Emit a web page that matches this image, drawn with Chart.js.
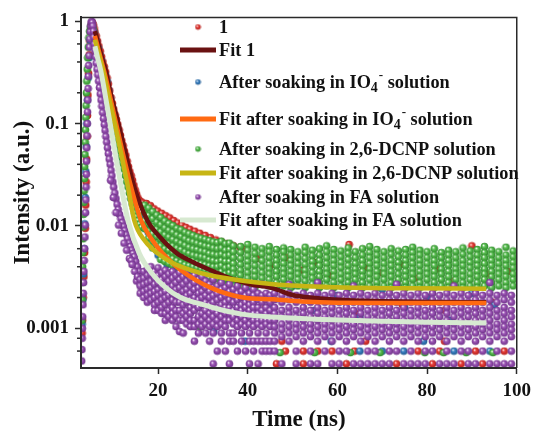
<!DOCTYPE html>
<html>
<head>
<meta charset="utf-8">
<script src="https://cdn.jsdelivr.net/npm/chart.js@4.4.1/dist/chart.umd.min.js"></script>
<style>
  html, body { margin: 0; padding: 0; background: #ffffff; }
  canvas { display: block; }
</style>
</head>
<body>
<canvas id="decay" width="537" height="435"></canvas>
<script>
// ---------- axis ticks ----------
const xTicks = [20, 40, 60, 80, 100];
const yMajorTicks = [0.001, 0.01, 0.1, 1];
const yMinorTicks = [0.0006, 0.0008, 0.002, 0.004, 0.006, 0.008, 0.02, 0.04, 0.06, 0.08, 0.2, 0.4, 0.6, 0.8];

// ---------- series labels ----------
const seriesLabels = [
  '1',
  'Fit 1',
  'After soaking in IO\u2084\u207B solution',
  'Fit after soaking in IO\u2084\u207B solution',
  'After soaking in 2,6-DCNP solution',
  'Fit after soaking in 2,6-DCNP solution',
  'After soaking in FA solution',
  'Fit after soaking in FA solution'
];

// ---------- sample 1 (time ns, intensity) ----------
const s1Curve = [
  [3.05,0.0009],[3.15,0.0012],[3.3,0.002],[3.45,0.0032],[3.6,0.0055],[3.75,0.0095],[3.85,0.016],[3.95,0.027],
  [4.05,0.045],[4.15,0.075],[4.25,0.12],[4.35,0.19],[4.5,0.31],[4.65,0.47],[4.8,0.64],[4.95,0.8],[5.1,0.92],
  [5.3,0.97],[5.5,0.93],[5.7,0.86],[5.9,0.79],[6.2,0.72],[6.5,0.64],[6.8,0.57],[7.1,0.51],[7.4,0.45],[7.7,0.40],
  [8.0,0.36],[8.3,0.32],[8.6,0.28],[8.9,0.245],[9.2,0.21],[9.5,0.18],[9.8,0.158],[10.1,0.138],[10.4,0.122],
  [10.7,0.11],[11.0,0.098],[11.3,0.087],[11.6,0.077],[11.9,0.068],[12.2,0.061],[12.5,0.054],[12.8,0.049],
  [13.1,0.043],[13.4,0.038],[13.7,0.034],[14.0,0.031],[14.3,0.028],[14.6,0.025],[14.9,0.0225],[15.2,0.0205],
  [15.5,0.0188],[15.8,0.0178],[16.2,0.0172],[16.6,0.0168],[17.4,0.0166],[18.3,0.0158],[19.1,0.0147],[19.9,0.0140],
  [20.8,0.0133],[21.7,0.0126],[22.6,0.0120],[23.5,0.0113],[24.4,0.0107],[25.3,0.0102],[26.2,0.0097],[27.1,0.0093],
  [28.2,0.0089],[29.3,0.0085],[30.5,0.0081],[31.7,0.0077],[32.9,0.0073],[34.1,0.0070],[35.4,0.0067],[36.8,0.0064],
  [38.3,0.0062],[39.8,0.0060],[17.0,0.0118],[18.5,0.0095],[20.0,0.0081],[22.0,0.0068],[24.0,0.0058],[26.5,0.005],
  [29.0,0.0043],[32.0,0.0037],[35.0,0.0033],[38.0,0.0029],[42.0,0.0048],[45.0,0.0041],[48.8,0.0049],[52.0,0.0037],
  [55.0,0.0044],[58.0,0.0033],[62.6,0.0066],[66.0,0.0039],[70.0,0.0035],[74.0,0.0042],[78.0,0.0031],[82.0,0.0038],
  [86.0,0.0029],[90.0,0.0064],[94.0,0.0034],[98.0,0.0036],[44.0,0.0016],[54.0,0.0019],[64.0,0.0014],[74.5,0.0017],
  [84.0,0.0015],[94.5,0.0018],[47.6,0.00075],[66.3,0.00075],[83.9,0.00075],
  [48.4,0.0006],[52.4,0.0006],[55.6,0.0006],[58.8,0.0006],[63.8,0.0006],[78.0,0.0006],[82.8,0.0006],[90.8,0.0006],
  [97.2,0.0006],[46.4,0.00045],[52.4,0.00045],[62.0,0.00045],[73.2,0.00045],[81.2,0.00045],[87.6,0.00045],[92.4,0.00045]
];

// ---------- after soaking in IO4- ----------
const ioCurve = [
  [3.05,0.0011],[3.2,0.0019],[3.35,0.0034],[3.5,0.006],[3.62,0.0105],[3.74,0.019],[3.86,0.034],[3.98,0.06],
  [4.1,0.1],[4.24,0.17],[4.4,0.28],[4.6,0.44],[4.85,0.65],[5.1,0.82],[5.4,0.86],[5.7,0.78],[6.2,0.64],[6.6,0.55],
  [7.0,0.47],[7.4,0.41],[7.8,0.35],[8.2,0.3],[8.6,0.26],[9.0,0.21],[9.4,0.175],[9.8,0.145],[10.2,0.12],[10.6,0.1],
  [11.0,0.085],[11.4,0.071],[11.8,0.06],[12.2,0.05],[12.6,0.042],[13.0,0.036],[13.4,0.031],[13.8,0.026],
  [14.2,0.022],[14.6,0.019],[15.0,0.0168],[15.4,0.0172],[16.0,0.0125],[16.6,0.011],[17.2,0.0097],[17.8,0.0087],
  [18.5,0.0078],[20.0,0.0052],[22.0,0.0042],[24.0,0.0035],[26.0,0.0031],[28.0,0.0027],[30.0,0.0025],[33.0,0.0021],
  [36.0,0.0019],[40.0,0.0023],[45.0,0.0017],[50.0,0.0026],[55.0,0.0015],[60.0,0.0021],[65.0,0.0013],[70.0,0.0024],
  [75.0,0.0016],[80.0,0.002],[85.0,0.0012],[90.0,0.0022],[95.0,0.0017],
  [32.4,0.00093],[39.4,0.00075],[58.6,0.00075],[79.2,0.00075],
  [65.0,0.0006],[70.0,0.0006],[74.8,0.0006],[86.0,0.0006],[94.0,0.0006]
];

// ---------- after soaking in 2,6-DCNP ----------
const dcnpCurve = [
  [3.0,0.0012],[3.05,0.0019],[3.1,0.0028],[3.15,0.004],[3.2,0.0055],[3.26,0.0075],[3.32,0.0098],[3.38,0.013],
  [3.44,0.017],[3.5,0.022],[3.56,0.029],[3.62,0.038],[3.68,0.05],[3.74,0.066],[3.8,0.087],[3.87,0.115],[3.94,0.15],
  [4.02,0.2],[4.1,0.26],[4.2,0.34],[4.3,0.44],[4.42,0.56],[4.56,0.69],[4.72,0.8],[4.9,0.88],[5.1,0.92],[5.35,0.9],
  [5.6,0.82],[5.85,0.72],[6.1,0.62],[6.4,0.55],[6.7,0.49],[7.0,0.44],[7.3,0.39],[7.6,0.35],[7.9,0.31],[8.2,0.27],
  [8.5,0.235],[8.8,0.2],[9.1,0.172],[9.4,0.148],[9.7,0.128],[10.0,0.11],[10.3,0.096],[10.6,0.083],[10.9,0.072],
  [11.2,0.062],[11.5,0.054],[11.8,0.047],[12.1,0.041],[12.4,0.036],[12.7,0.031],[13.0,0.027],[13.3,0.024],
  [13.6,0.021],[13.9,0.0185],[14.2,0.0165],[14.5,0.0148],[14.8,0.0134],[15.1,0.0123],[15.5,0.0113],[15.9,0.0104],
  [16.3,0.0097],[29.3,0.00103],[47.2,0.00058],[54.9,0.00058],[62.9,0.00058],[69.5,0.00058],[79.5,0.00058],
  [83.7,0.00058],[88.7,0.00058],[94.7,0.00058]
];
const dcnpColumns = [
  [17.0,0.0160,0.0135,0.0112,0.0094],
  [17.9,0.0150,0.0127,0.0106,0.0089,0.0076],
  [18.8,0.0138,0.0118,0.0099,0.0084,0.0071,0.0061],
  [19.7,0.0128,0.0109,0.0093,0.0079,0.0067,0.0058],
  [20.6,0.0121,0.0103,0.0088,0.0075,0.0064,0.0055,0.0047],
  [21.5,0.0112,0.0096,0.0082,0.0070,0.0060,0.0052,0.0045],
  [22.4,0.0106,0.0091,0.0078,0.0067,0.0058,0.0050,0.0043],
  [23.3,0.0101,0.0087,0.0074,0.0064,0.0055,0.0048,0.0041],
  [24.2,0.0095,0.0082,0.0071,0.0061,0.0053,0.0046,0.0040],
  [25.1,0.0092,0.0079,0.0068,0.0059,0.0051,0.0044,0.0038],
  [26.0,0.0087,0.0075,0.0065,0.0056,0.0049,0.0042,0.0037],
  [26.9,0.0084,0.0072,0.0062,0.0054,0.0047,0.0041,0.0036],
  [27.8,0.0081,0.0070,0.0060,0.0052,0.0046,0.0040,0.0035],
  [28.7,0.0078,0.0068,0.0059,0.0051,0.0044,0.0039,0.0034,0.0030],
  [29.6,0.0076,0.0066,0.0057,0.0050,0.0043,0.0038,0.0033,0.0029],
  [30.5,0.0074,0.0064,0.0056,0.0049,0.0042,0.0037,0.0032,0.0028],
  [31.4,0.0072,0.0063,0.0054,0.0047,0.0041,0.0036,0.0031,0.0028],
  [32.3,0.0070,0.0061,0.0053,0.0046,0.0040,0.0035,0.0031,0.0027],
  [33.2,0.0069,0.0060,0.0052,0.0045,0.0040,0.0035,0.0030,0.0027],
  [34.1,0.0071,0.0061,0.0053,0.0046,0.0041,0.0036,0.0031,0.0027],
  [35.0,0.0067,0.0058,0.0051,0.0045,0.0039,0.0034,0.0030,0.0026],
  [35.9,0.0068,0.0059,0.0052,0.0045,0.0040,0.0035,0.0030,0.0026],
  [36.8,0.0064,0.0056,0.0049,0.0043,0.0038,0.0034,0.0030,0.0026],
  [38.4,0.0063,0.0055,0.0048,0.0042,0.0037,0.0033,0.0029,0.0025],
  [40.0,0.0066,0.0058,0.0051,0.0045,0.0040,0.0035,0.0031,0.0027],
  [41.6,0.0062,0.0054,0.0047,0.0041,0.0036,0.0032,0.0028,0.0025],
  [43.2,0.0060,0.0053,0.0046,0.0040,0.0035,0.0031,0.0027],
  [44.8,0.0063,0.0056,0.0049,0.0043,0.0038,0.0034,0.0030,0.0026],
  [46.4,0.0059,0.0052,0.0046,0.0041,0.0036,0.0032,0.0028,0.0025],
  [48.0,0.0061,0.0056,0.0049,0.0043,0.0038,0.0034,0.0030,0.0026],
  [49.6,0.0059,0.0052,0.0046,0.0041,0.0036,0.0032,0.0028,0.0025],
  [51.2,0.0056,0.0049,0.0043,0.0038,0.0034,0.0030,0.0026],
  [52.8,0.0062,0.0055,0.0048,0.0042,0.0037,0.0033,0.0029,0.0025],
  [54.4,0.0058,0.0051,0.0045,0.0040,0.0035,0.0031,0.0027],
  [56.0,0.0060,0.0052,0.0046,0.0041,0.0036,0.0032,0.0028,0.0025],
  [57.6,0.0064,0.0056,0.0049,0.0043,0.0038,0.0034,0.0030,0.0026],
  [59.2,0.0059,0.0052,0.0046,0.0041,0.0036,0.0032,0.0028,0.0025],
  [60.8,0.0057,0.0050,0.0044,0.0039,0.0034,0.0030,0.0026],
  [62.4,0.0061,0.0054,0.0047,0.0041,0.0036,0.0032,0.0028,0.0025],
  [64.0,0.0056,0.0049,0.0043,0.0038,0.0034,0.0030,0.0026],
  [65.6,0.0060,0.0052,0.0046,0.0041,0.0036,0.0032,0.0028,0.0025],
  [67.2,0.0063,0.0055,0.0049,0.0043,0.0038,0.0034,0.0030,0.0026],
  [68.8,0.0059,0.0052,0.0046,0.0041,0.0036,0.0032,0.0028,0.0025],
  [70.4,0.0056,0.0049,0.0043,0.0038,0.0034,0.0030,0.0026],
  [72.0,0.0060,0.0053,0.0046,0.0041,0.0036,0.0032,0.0028,0.0025],
  [73.6,0.0057,0.0050,0.0044,0.0039,0.0034,0.0030,0.0026],
  [75.2,0.0059,0.0052,0.0046,0.0041,0.0036,0.0032,0.0028,0.0025],
  [76.8,0.0062,0.0055,0.0049,0.0043,0.0038,0.0034,0.0030,0.0026],
  [78.4,0.0058,0.0052,0.0046,0.0041,0.0036,0.0032,0.0028,0.0025],
  [80.0,0.0056,0.0049,0.0043,0.0038,0.0034,0.0030,0.0026],
  [81.6,0.0060,0.0052,0.0046,0.0041,0.0036,0.0032,0.0028,0.0025],
  [83.2,0.0055,0.0049,0.0043,0.0038,0.0034,0.0030,0.0026],
  [84.8,0.0058,0.0052,0.0046,0.0041,0.0036,0.0032,0.0028,0.0025],
  [86.4,0.0056,0.0049,0.0043,0.0038,0.0034,0.0030,0.0026],
  [88.0,0.0061,0.0053,0.0046,0.0041,0.0036,0.0032,0.0028,0.0025],
  [89.6,0.0057,0.0050,0.0044,0.0039,0.0034,0.0030,0.0026],
  [91.2,0.0059,0.0052,0.0046,0.0041,0.0036,0.0032,0.0028,0.0025],
  [92.8,0.0063,0.0055,0.0049,0.0043,0.0038,0.0034,0.0030,0.0026],
  [94.4,0.0058,0.0052,0.0046,0.0041,0.0036,0.0032,0.0028,0.0025],
  [96.0,0.0056,0.0049,0.0043,0.0038,0.0034,0.0030,0.0026],
  [97.6,0.0062,0.0052,0.0046,0.0041,0.0036,0.0032,0.0028,0.0025],
  [99.2,0.0057,0.0050,0.0044,0.0039,0.0034,0.0030,0.0026]
];

// ---------- after soaking in FA ----------
const faCurve = [
  [2.95,0.00048],[3.0,0.00062],[3.06,0.0008],[3.1,0.001],[3.17,0.0013],[3.24,0.0017],[3.31,0.0022],[3.38,0.0028],
  [3.45,0.0036],[3.52,0.0046],[3.6,0.006],[3.68,0.0078],[3.75,0.0102],[3.82,0.0135],[3.88,0.018],[3.94,0.024],
  [3.99,0.032],[4.04,0.043],[4.09,0.058],[4.14,0.076],[4.2,0.1],[4.26,0.13],[4.32,0.17],[4.38,0.22],[4.45,0.29],
  [4.52,0.37],[4.6,0.46],[4.68,0.56],[4.77,0.67],[4.87,0.79],[4.98,0.9],[5.08,0.97],[5.2,1.0],
  [5.32,0.97],[5.44,0.9],[5.55,0.8],[5.66,0.7],[5.78,0.6],[5.9,0.52],[6.04,0.45],[6.2,0.39],[6.38,0.34],[6.56,0.3],
  [6.74,0.26],[6.92,0.225],[7.1,0.195],[7.28,0.17],[7.46,0.148],[7.64,0.128],[7.82,0.112],[8.0,0.098],[8.18,0.086],
  [8.36,0.075],[8.54,0.066],[8.72,0.058],[8.9,0.051],[9.1,0.045],[9.3,0.04],[9.5,0.035],[9.7,0.031],[9.9,0.027],
  [10.1,0.024],[10.35,0.021],[10.6,0.0185],[10.85,0.0163],[11.1,0.0145],[11.4,0.013],[11.7,0.0118],[12.0,0.0108],
  [12.3,0.0099],[12.6,0.009],[12.9,0.0082],[13.2,0.0075],[13.5,0.0068],[13.8,0.0063],[14.1,0.0058],[14.4,0.0054],
  [14.7,0.005],[15.0,0.0045],[15.4,0.004],[15.8,0.0036],[16.2,0.0032],[16.6,0.0028],[17.0,0.0025],
  [9.4,0.028],[10.0,0.019],[10.6,0.0135],[11.2,0.0102],[11.8,0.0085],[12.4,0.0068],[13.0,0.0058],[13.6,0.0048],
  [14.0,0.0046],[14.2,0.0042],[14.8,0.0036],[15.2,0.0029],[15.4,0.0032],[16.0,0.0027],[16.4,0.0024]
];
const faColumns = [
  [16.0,0.0030,0.0026,0.0022],
  [16.8,0.0036,0.0031,0.0027,0.0023,0.0020],
  [17.6,0.0038,0.0033,0.0028,0.0024,0.0021,0.0018],
  [18.4,0.0040,0.0034,0.0029,0.0025,0.0022,0.0019],
  [19.2,0.0036,0.0031,0.0027,0.0023,0.0020,0.0017,0.0015],
  [20.0,0.0039,0.0033,0.0028,0.0024,0.0021,0.0018,0.0015],
  [20.8,0.0035,0.0030,0.0026,0.0022,0.0019,0.0016,0.0014],
  [21.6,0.0037,0.0032,0.0027,0.0023,0.0020,0.0017,0.0014,0.0012],
  [22.4,0.0034,0.0029,0.0025,0.0021,0.0018,0.0015,0.0013],
  [23.2,0.0036,0.0031,0.0026,0.0022,0.0019,0.0016,0.0014,0.0012],
  [24.0,0.0033,0.0028,0.0024,0.0021,0.0018,0.0015,0.0013,0.00104],
  [24.8,0.0035,0.0030,0.0025,0.0021,0.0018,0.0015,0.0012,0.00093],
  [25.6,0.0032,0.0027,0.0023,0.0020,0.0017,0.0014,0.0012,0.0009],
  [26.4,0.0034,0.0029,0.0024,0.0021,0.0018,0.0015,0.0013,0.0011],
  [27.2,0.0031,0.0026,0.0022,0.0019,0.0016,0.0014,0.0012,0.00104],
  [28.1,0.0033,0.0028,0.0024,0.0020,0.0017,0.0015,0.0012,0.00104,0.00075],
  [29.0,0.0030,0.0025,0.0022,0.0019,0.0016,0.0013,0.0011,0.0009],
  [29.8,0.0032,0.0027,0.0023,0.0020,0.0017,0.0014,0.0012,0.00104],
  [30.6,0.0029,0.0025,0.0021,0.0018,0.0015,0.0013,0.0011,0.0009],
  [31.5,0.0027,0.0023,0.0020,0.0017,0.0014,0.0012,0.00104,0.00075],
  [32.3,0.0030,0.0025,0.0021,0.0018,0.0015,0.0013,0.0011,0.0009,0.00045],
  [33.2,0.0026,0.0022,0.0019,0.0016,0.0014,0.0012,0.00104,0.0006],
  [34.1,0.0028,0.0024,0.0020,0.0017,0.0015,0.0013,0.0011,0.0009,0.00075],
  [35.0,0.0025,0.0021,0.0018,0.0016,0.0014,0.0012,0.00104,0.0006],
  [35.9,0.0027,0.0023,0.0019,0.0016,0.0014,0.0012,0.0009,0.00075,0.00045],
  [36.8,0.0024,0.0021,0.0018,0.0015,0.0013,0.0011,0.0009,0.00075],
  [37.7,0.0026,0.0022,0.0019,0.0016,0.0014,0.0012,0.00104,0.0006],
  [38.6,0.0023,0.0020,0.0017,0.0015,0.0013,0.0011,0.0009,0.00075],
  [39.5,0.0025,0.0021,0.0018,0.0016,0.0014,0.0012,0.00104,0.0006],
  [40.4,0.0022,0.0019,0.0017,0.0015,0.0013,0.0011,0.0009,0.00075,0.00045],
  [41.3,0.0024,0.0021,0.0018,0.0016,0.0014,0.0012,0.00104,0.00075,0.0006],
  [42.3,0.0022,0.0019,0.0016,0.0014,0.0012,0.0011,0.0009,0.00075,0.00045],
  [43.2,0.0027,0.0021,0.0018,0.0015,0.0013,0.0012,0.00104,0.00075,0.0006],
  [44.1,0.0022,0.0019,0.0016,0.0014,0.0012,0.0011,0.0009,0.00075,0.0006],
  [45.0,0.0021,0.0018,0.0015,0.0013,0.0012,0.00104,0.00075,0.0006],
  [46.0,0.0022,0.0019,0.0016,0.0014,0.0012,0.00104,0.0009,0.00075,0.0006],
  [47.6,0.0021,0.0018,0.0015,0.0013,0.0011,0.00097,0.00083,0.00045],
  [49.2,0.0027,0.0022,0.0019,0.0016,0.0014,0.0012,0.00104,0.0009,0.00075],
  [50.8,0.0021,0.0018,0.0015,0.0013,0.0011,0.00097,0.00083,0.0006,0.00045],
  [52.4,0.0022,0.0019,0.0016,0.0014,0.0012,0.00104,0.0009,0.00075],
  [54.0,0.0021,0.0018,0.0015,0.0013,0.0011,0.00097,0.00083,0.0006,0.00045],
  [55.6,0.0028,0.0022,0.0019,0.0016,0.0014,0.0012,0.00104,0.0009,0.00075,0.00045],
  [57.2,0.0021,0.0018,0.0015,0.0013,0.0011,0.00097,0.00083,0.0006],
  [58.8,0.0022,0.0019,0.0016,0.0014,0.0012,0.00104,0.0009,0.00075,0.00045],
  [60.4,0.0021,0.0018,0.0015,0.0013,0.0011,0.00097,0.00083,0.0006,0.00045],
  [62.0,0.0022,0.0019,0.0016,0.0014,0.0012,0.00104,0.0009,0.00075,0.0006],
  [63.6,0.0026,0.0021,0.0018,0.0015,0.0013,0.0011,0.00097,0.00083,0.00045],
  [65.2,0.0022,0.0019,0.0016,0.0014,0.0012,0.00104,0.0009,0.00075,0.00045],
  [66.8,0.0021,0.0018,0.0015,0.0013,0.0011,0.00097,0.00083,0.0006,0.00045],
  [68.4,0.0022,0.0019,0.0016,0.0014,0.0012,0.00104,0.0009,0.00075,0.0006,0.00045],
  [70.0,0.0021,0.0018,0.0015,0.0013,0.0011,0.00097,0.00083,0.00045],
  [71.6,0.0022,0.0019,0.0016,0.0014,0.0012,0.00104,0.0009,0.00075,0.0006,0.00045],
  [73.2,0.0027,0.0021,0.0018,0.0015,0.0013,0.0011,0.00097,0.00083,0.0006],
  [74.8,0.0022,0.0019,0.0016,0.0014,0.0012,0.00104,0.0009,0.00075,0.00045],
  [76.4,0.0021,0.0018,0.0015,0.0013,0.0011,0.00097,0.00083,0.0006,0.00045],
  [78.0,0.0022,0.0019,0.0016,0.0014,0.0012,0.00104,0.0009,0.00075,0.00045],
  [79.6,0.0021,0.0018,0.0015,0.0013,0.0011,0.00097,0.00083,0.0006,0.00045],
  [81.2,0.0022,0.0019,0.0016,0.0014,0.0012,0.00104,0.0009,0.00075,0.0006],
  [82.8,0.0021,0.0018,0.0015,0.0013,0.0011,0.00097,0.00083,0.00045],
  [84.4,0.0022,0.0019,0.0016,0.0014,0.0012,0.00104,0.0009,0.00075,0.0006,0.00045],
  [86.0,0.0026,0.0021,0.0018,0.0015,0.0013,0.0011,0.00097,0.00083,0.00045],
  [87.6,0.0022,0.0019,0.0016,0.0014,0.0012,0.00104,0.0009,0.00075,0.0006],
  [89.2,0.0021,0.0018,0.0015,0.0013,0.0011,0.00097,0.00083,0.0006,0.00045],
  [90.8,0.0022,0.0019,0.0016,0.0014,0.0012,0.00104,0.0009,0.00075,0.00045],
  [92.4,0.0021,0.0018,0.0015,0.0013,0.0011,0.00097,0.00083,0.0006],
  [94.0,0.0028,0.0022,0.0019,0.0016,0.0014,0.0012,0.00104,0.0009,0.00075,0.00045],
  [95.6,0.0021,0.0018,0.0015,0.0013,0.0011,0.00097,0.00083,0.0006,0.00045],
  [97.2,0.0022,0.0019,0.0016,0.0014,0.0012,0.00104,0.0009,0.00075,0.00045],
  [98.8,0.0021,0.0018,0.0015,0.0013,0.0011,0.00097,0.00083,0.0006,0.00045]
];

// ---------- fitted decay curves ----------
const fit1 = [
  [5.9,0.80],[6.5,0.64],[7.0,0.53],[7.6,0.42],[8.3,0.33],[9.5,0.19],[11.0,0.106],[12.8,0.050],[14.7,0.0238],
  [17.6,0.0113],[20.5,0.0077],[24.2,0.0054],[27.5,0.0045],[31.7,0.0037],[36.0,0.0031],[40.6,0.0027],[45.7,0.00246],
  [50.0,0.00212],[55.0,0.00198],[60.0,0.0019],[70.0,0.00184],[80.0,0.00181],[93.2,0.0018]
];
const fitIO = [
  [5.9,0.72],[6.5,0.57],[7.0,0.47],[8.0,0.32],[9.2,0.19],[10.5,0.106],[12.2,0.050],[14.0,0.0238],[16.2,0.0113],
  [18.5,0.0075],[21.0,0.0054],[25.1,0.0037],[31.7,0.0025],[39.0,0.0020],[45.7,0.00192],[52.0,0.00183],
  [60.0,0.00178],[75.0,0.00177],[93.2,0.00177]
];
const fitDCNP = [
  [5.9,0.66],[6.4,0.54],[7.0,0.44],[7.8,0.32],[9.0,0.18],[10.2,0.106],[11.8,0.050],[13.3,0.0238],[14.7,0.0113],
  [17.0,0.0072],[19.9,0.0054],[23.0,0.0044],[27.3,0.0037],[31.5,0.0033],[36.9,0.0030],[45.7,0.0027],[60.0,0.00252],
  [75.0,0.00246],[93.2,0.00244]
];
const fitFA = [
  [5.9,0.57],[6.5,0.44],[7.2,0.33],[8.2,0.19],[9.2,0.106],[10.5,0.050],[11.8,0.0238],[13.3,0.0113],[15.8,0.0054],
  [18.5,0.0035],[21.7,0.0025],[25.0,0.0020],[29.5,0.00173],[34.0,0.00152],[39.0,0.00137],[45.7,0.00129],
  [55.0,0.00123],[67.8,0.00118],[80.0,0.00115],[93.2,0.00113]
];

// ---------- helpers ----------
const FONT = "'Liberation Serif', 'Times New Roman', serif";
const asPoints = pairs => pairs.map(([x, y]) => ({ x, y }));
const fromColumns = cols => cols.flatMap(([t, ...vals]) => vals.map(v => ({ x: t, y: v })));

// shaded sphere used as a marker
function sphere(base, dark, r) {
  const s = Math.ceil(r * 2) + 1;
  const c = document.createElement('canvas');
  c.width = c.height = s;
  const g = c.getContext('2d');
  const cx = s / 2, cy = s / 2;
  const grad = g.createRadialGradient(cx - r * 0.3, cy - r * 0.35, r * 0.05, cx, cy, r);
  grad.addColorStop(0, '#ffffff');
  grad.addColorStop(0.35, base);
  grad.addColorStop(1, dark);
  g.fillStyle = grad;
  g.beginPath();
  g.arc(cx, cy, r, 0, Math.PI * 2);
  g.fill();
  return c;
}

const palette = {
  red:    ['#e8413c', '#b3201c'],
  blue:   ['#3f86c8', '#20598f'],
  green:  ['#5fc257', '#2e8a2a'],
  purple: ['#a05ab9', '#6e3188']
};

function dotSet(label, data, col, order) {
  return {
    type: 'scatter', label, data, order, clip: 0,
    pointStyle: sphere(col[0], col[1], 3.8),
    legendMarker: sphere(col[0], col[1], 2.8),
    pointRadius: 3.8, showLine: false
  };
}
function fitSet(label, data, color, width, order) {
  return {
    type: 'line', label, data, order, clip: 0,
    borderColor: color, borderWidth: width, pointRadius: 0, showLine: true,
    cubicInterpolationMode: 'monotone', fill: false
  };
}

const datasets = [
  dotSet(seriesLabels[0], asPoints(s1Curve), palette.red, 8),
  fitSet(seriesLabels[1], asPoints(fit1), '#6a1111', 4.5, 4),
  dotSet(seriesLabels[2], asPoints(ioCurve), palette.blue, 7),
  fitSet(seriesLabels[3], asPoints(fitIO), '#ff6a12', 4.5, 3),
  dotSet(seriesLabels[4], asPoints(dcnpCurve).concat(fromColumns(dcnpColumns)), palette.green, 6),
  fitSet(seriesLabels[5], asPoints(fitDCNP), '#c7b515', 4.5, 2),
  dotSet(seriesLabels[6], asPoints(faCurve).concat(fromColumns(faColumns)), palette.purple, 5),
  fitSet(seriesLabels[7], asPoints(fitFA), '#d7e9d1', 5, 1)
];

// ---------- plugins ----------
const frame = {
  id: 'frame',
  afterDatasetsDraw(chart) {
    const { ctx, chartArea: a } = chart;
    ctx.save();
    ctx.strokeStyle = '#2a2a2a';
    ctx.lineWidth = 1.5;
    ctx.beginPath();
    ctx.moveTo(a.left, a.top); ctx.lineTo(a.right, a.top); ctx.lineTo(a.right, a.bottom);
    ctx.stroke();
    ctx.lineWidth = 2;
    ctx.beginPath();
    ctx.moveTo(a.left, a.top); ctx.lineTo(a.left, a.bottom); ctx.lineTo(a.right, a.bottom);
    ctx.stroke();
    ctx.restore();
  }
};

const minorTicks = {
  id: 'minorTicks',
  afterDraw(chart) {
    const { ctx, chartArea: a, scales: { y } } = chart;
    ctx.save();
    ctx.strokeStyle = '#2a2a2a';
    ctx.lineWidth = 1.5;
    yMinorTicks.forEach(v => {
      const p = y.getPixelForValue(v);
      if (p < a.top || p > a.bottom) return;
      ctx.beginPath(); ctx.moveTo(a.left - 4, p); ctx.lineTo(a.left, p); ctx.stroke();
    });
    ctx.restore();
  }
};

const legendRows = [27, 50, 82, 119, 149, 173, 197, 220];
const insetLegend = {
  id: 'insetLegend',
  afterDraw(chart) {
    const ctx = chart.ctx;
    ctx.save();
    ctx.fillStyle = '#111';
    ctx.textBaseline = 'alphabetic';
    chart.data.datasets.forEach((ds, i) => {
      const yc = legendRows[i];
      if (ds.type === 'line') {
        ctx.strokeStyle = ds.borderColor;
        ctx.lineWidth = 5;
        ctx.beginPath(); ctx.moveTo(180, yc); ctx.lineTo(216, yc); ctx.stroke();
      } else {
        const m = ds.legendMarker;
        ctx.drawImage(m, 198 - m.width / 2, yc - m.height / 2);
      }
      const base = yc + 6;
      let x = 219;
      ds.label.split(/([\u2084\u207B])/).forEach(part => {
        if (!part) return;
        if (part === '\u2084') {
          ctx.font = `bold 14px ${FONT}`;
          ctx.fillText('4', x, base + 4);
          x += ctx.measureText('4').width;
        } else if (part === '\u207B') {
          ctx.font = `bold 13px ${FONT}`;
          ctx.fillText('-', x + 1, base - 9);
          x += ctx.measureText('-').width + 1;
        } else {
          ctx.font = `bold 18.3px ${FONT}`;
          ctx.fillText(part, x, base);
          x += ctx.measureText(part).width;
        }
      });
    });
    ctx.restore();
  }
};

// ---------- chart ----------
const tickFont = { family: FONT, size: 19, weight: 'bold' };
const titleFont = { family: FONT, size: 23, weight: 'bold' };

new Chart(document.getElementById('decay'), {
  type: 'scatter',
  data: { datasets },
  options: {
    responsive: false,
    animation: false,
    devicePixelRatio: 1,
    events: [],
    layout: { padding: { top: 16, right: 16.5, left: 0, bottom: 0 } },
    plugins: { legend: { display: false }, tooltip: { enabled: false } },
    scales: {
      x: {
        type: 'linear', min: 2.8, max: 100,
        afterBuildTicks: s => { s.ticks = xTicks.map(v => ({ value: v })); },
        afterFit: s => { s.height = 67; },
        grid: { drawOnChartArea: false, drawTicks: true, tickLength: 6, tickWidth: 1.5, tickColor: '#2a2a2a' },
        border: { color: '#2a2a2a', width: 2 },
        ticks: { font: tickFont, color: '#111', padding: 6, maxRotation: 0, autoSkip: false },
        title: { display: true, text: 'Time (ns)', font: titleFont, color: '#111', padding: { top: 0, bottom: 1 } }
      },
      y: {
        type: 'logarithmic', min: 0.00041, max: 1.09,
        afterBuildTicks: s => { s.ticks = yMajorTicks.map(v => ({ value: v })); },
        afterFit: s => { s.width = 81; },
        grid: { drawOnChartArea: false, drawTicks: true, tickLength: 6, tickWidth: 1.5, tickColor: '#2a2a2a' },
        border: { color: '#2a2a2a', width: 2 },
        ticks: { font: tickFont, color: '#111', padding: 6, autoSkip: false, callback: v => String(v) },
        title: { display: true, text: 'Intensity (a.u.)', font: titleFont, color: '#111', padding: { top: 9, bottom: 0 } }
      }
    }
  },
  plugins: [frame, minorTicks, insetLegend]
});
</script>
</body>
</html>
